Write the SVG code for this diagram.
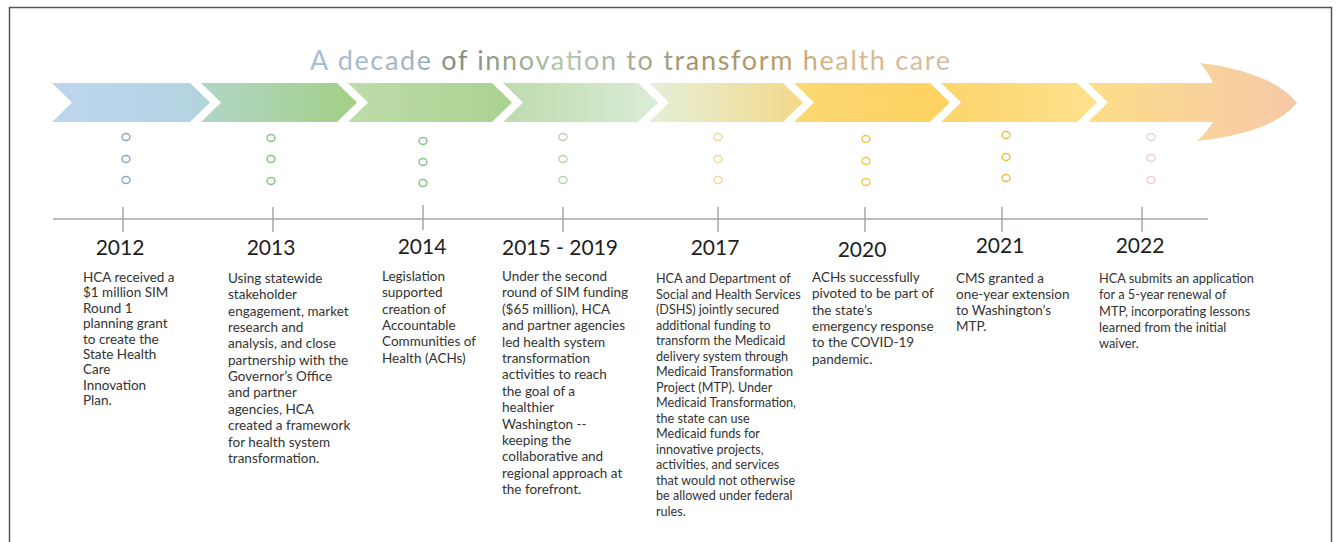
<svg xmlns="http://www.w3.org/2000/svg" width="1337" height="542" viewBox="0 0 1337 542">
<style>
.yr{font-family:Lato,"Liberation Sans",sans-serif;font-size:21px;fill:#1e1e1e;text-anchor:middle}
.d{font-family:Lato,"Liberation Sans",sans-serif;font-size:13.5px;fill:#333}
.d2{font-family:Lato,"Liberation Sans",sans-serif;font-size:12.6px;fill:#333}
.d3{font-family:Lato,"Liberation Sans",sans-serif;font-size:12.8px;fill:#333}
.tk{stroke:#a6a6a6;stroke-width:1.5}
.dot{fill:none;stroke-width:1.4}
</style>
<defs>
<linearGradient id="g1" x1="0" x2="1" y1="0" y2="0"><stop offset="0" stop-color="#bcd5ec"/><stop offset="0.6" stop-color="#b8d3e8"/><stop offset="1" stop-color="#b3d3dc"/></linearGradient>
<linearGradient id="g2" x1="0" x2="1" y1="0" y2="0"><stop offset="0" stop-color="#b1d6c8"/><stop offset="1" stop-color="#a3cf85"/></linearGradient>
<linearGradient id="g3" x1="0" x2="1" y1="0" y2="0"><stop offset="0" stop-color="#bedcab"/><stop offset="1" stop-color="#a9d28f"/></linearGradient>
<linearGradient id="g4" x1="0" x2="1" y1="0" y2="0"><stop offset="0" stop-color="#bddbae"/><stop offset="1" stop-color="#dcecd6"/></linearGradient>
<linearGradient id="g5" x1="0" x2="1" y1="0" y2="0"><stop offset="0" stop-color="#e4efda"/><stop offset="1" stop-color="#f3d98a"/></linearGradient>
<linearGradient id="g6" x1="0" x2="1" y1="0" y2="0"><stop offset="0" stop-color="#fbd873"/><stop offset="1" stop-color="#fdd25f"/></linearGradient>
<linearGradient id="g7" x1="0" x2="1" y1="0" y2="0"><stop offset="0" stop-color="#fcd56c"/><stop offset="1" stop-color="#fde18c"/></linearGradient>
<linearGradient id="g8" x1="0" x2="1" y1="0" y2="0"><stop offset="0" stop-color="#fddd86"/><stop offset="0.5" stop-color="#f9d49a"/><stop offset="1" stop-color="#f6c8a6"/></linearGradient>
<linearGradient id="gt" gradientUnits="userSpaceOnUse" x1="310" y1="0" x2="950" y2="0">
<stop offset="0" stop-color="#a8bfd8"/><stop offset="0.17" stop-color="#9fb4c4"/><stop offset="0.22" stop-color="#7f8e7c"/><stop offset="0.3" stop-color="#8fa288"/><stop offset="0.4" stop-color="#b3c8ac"/><stop offset="0.5" stop-color="#a9ae9c"/><stop offset="0.6" stop-color="#a2946a"/><stop offset="0.72" stop-color="#b69c68"/><stop offset="0.82" stop-color="#d6b886"/><stop offset="1" stop-color="#d8bcaa"/>
</linearGradient>
</defs>
<rect width="1337" height="542" fill="#ffffff"/>
<path d="M9.5,542 V7.5 H1331.5 V542" fill="none" stroke="#555" stroke-width="1.5"/>

<text id="title" x="310" y="70" font-family="Lato,'Liberation Sans',sans-serif" font-size="27" fill="url(#gt)" textLength="640" lengthAdjust="spacing">A decade of innovation to transform health care</text>

<g id="arrow">
<polygon points="52,83 190,83 210,102.5 190,122 52,122 72,102.5" fill="url(#g1)"/>
<polygon points="201,83 337,83 357,102.5 337,122 201,122 221,102.5" fill="url(#g2)"/>
<polygon points="348,83 492,83 512,102.5 492,122 348,122 368,102.5" fill="url(#g3)"/>
<polygon points="503,83 638,83 658,102.5 638,122 503,122 523,102.5" fill="url(#g4)"/>
<polygon points="649,83 783,83 803,102.5 783,122 649,122 669,102.5" fill="url(#g5)"/>
<polygon points="794,83 930,83 950,102.5 930,122 794,122 814,102.5" fill="url(#g6)"/>
<polygon points="941,83 1077,83 1097,102.5 1077,122 941,122 961,102.5" fill="url(#g7)"/>
<path d="M1088,83 L1213,83 Q1208,72 1200,63 Q1272,72 1297,103 Q1272,133 1197,141 Q1207,132 1213,122 L1088,122 L1108,102.5 Z" fill="url(#g8)"/>
</g>

<g id="dots">
<g class="dot" stroke="#8ea7c6"><ellipse cx="126" cy="137" rx="4" ry="3.5"/><ellipse cx="126" cy="159" rx="4" ry="3.5"/><ellipse cx="126" cy="180" rx="4" ry="3.5"/></g>
<g class="dot" stroke="#8dbf8b"><ellipse cx="271" cy="138" rx="4" ry="3.5"/><ellipse cx="271" cy="159" rx="4" ry="3.5"/><ellipse cx="271" cy="181" rx="4" ry="3.5"/></g>
<g class="dot" stroke="#8dbf8b"><ellipse cx="423" cy="141" rx="4" ry="3.5"/><ellipse cx="423" cy="162" rx="4" ry="3.5"/><ellipse cx="423" cy="183" rx="4" ry="3.5"/></g>
<g class="dot" stroke="#b9d2b2"><ellipse cx="563" cy="137" rx="4" ry="3.5"/><ellipse cx="563" cy="159" rx="4" ry="3.5"/><ellipse cx="563" cy="180" rx="4" ry="3.5"/></g>
<g class="dot" stroke="#f0dc98"><ellipse cx="718" cy="137" rx="4" ry="3.5"/><ellipse cx="718" cy="159" rx="4" ry="3.5"/><ellipse cx="718" cy="180" rx="4" ry="3.5"/></g>
<g class="dot" stroke="#efc850"><ellipse cx="866" cy="139" rx="4" ry="3.5"/><ellipse cx="866" cy="161" rx="4" ry="3.5"/><ellipse cx="866" cy="182" rx="4" ry="3.5"/></g>
<g class="dot" stroke="#e8c04a"><ellipse cx="1006" cy="135" rx="4" ry="3.5"/><ellipse cx="1006" cy="157" rx="4" ry="3.5"/><ellipse cx="1006" cy="178" rx="4" ry="3.5"/></g>
<g class="dot" stroke="#eed0cc"><ellipse cx="1151" cy="137" rx="4" ry="3.5"/><ellipse cx="1151" cy="158" rx="4" ry="3.5"/><ellipse cx="1151" cy="180" rx="4" ry="3.5"/></g>
</g>

<g id="connectors">
<line class="tk" x1="53" y1="219" x2="1208" y2="219"/>
<line class="tk" x1="123" y1="207" x2="123" y2="232"/>
<line class="tk" x1="273" y1="207" x2="273" y2="232"/>
<line class="tk" x1="423" y1="205" x2="423" y2="230"/>
<line class="tk" x1="563" y1="207" x2="563" y2="232"/>
<line class="tk" x1="718" y1="207" x2="718" y2="232"/>
<line class="tk" x1="865" y1="207" x2="865" y2="232"/>
<line class="tk" x1="1002" y1="207" x2="1002" y2="232"/>
<line class="tk" x1="1142" y1="207" x2="1142" y2="232"/>
</g>

<g id="n2012">
<text class="yr" x="120" y="255">2012</text>
<text class="d" x="83" y="282"><tspan x="83">HCA received a</tspan><tspan x="83" dy="15.4">$1 million SIM</tspan><tspan x="83" dy="15.4">Round 1</tspan><tspan x="83" dy="15.4">planning grant</tspan><tspan x="83" dy="15.4">to create the</tspan><tspan x="83" dy="15.4">State Health</tspan><tspan x="83" dy="15.4">Care</tspan><tspan x="83" dy="15.4">Innovation</tspan><tspan x="83" dy="15.4">Plan.</tspan></text>
</g>

<g id="n2013">
<text class="yr" x="271" y="255">2013</text>
<text class="d" x="228" y="283"><tspan x="228">Using statewide</tspan><tspan x="228" dy="16.35">stakeholder</tspan><tspan x="228" dy="16.35">engagement, market</tspan><tspan x="228" dy="16.35">research and</tspan><tspan x="228" dy="16.35">analysis, and close</tspan><tspan x="228" dy="16.35">partnership with the</tspan><tspan x="228" dy="16.35">Governor’s Office</tspan><tspan x="228" dy="16.35">and partner</tspan><tspan x="228" dy="16.35">agencies, HCA</tspan><tspan x="228" dy="16.35">created a framework</tspan><tspan x="228" dy="16.35">for health system</tspan><tspan x="228" dy="16.35">transformation.</tspan></text>
</g>

<g id="n2014">
<text class="yr" x="422" y="254">2014</text>
<text class="d" x="382" y="281"><tspan x="382">Legislation</tspan><tspan x="382" dy="16.35">supported</tspan><tspan x="382" dy="16.35">creation of</tspan><tspan x="382" dy="16.35">Accountable</tspan><tspan x="382" dy="16.35">Communities of</tspan><tspan x="382" dy="16.35">Health (ACHs)</tspan></text>
</g>

<g id="n2015">
<text class="yr" x="560" y="255">2015 - 2019</text>
<text class="d" x="502" y="281"><tspan x="502">Under the second</tspan><tspan x="502" dy="16.4">round of SIM funding</tspan><tspan x="502" dy="16.4">($65 million), HCA</tspan><tspan x="502" dy="16.4">and partner agencies</tspan><tspan x="502" dy="16.4">led health system</tspan><tspan x="502" dy="16.4">transformation</tspan><tspan x="502" dy="16.4">activities to reach</tspan><tspan x="502" dy="16.4">the goal of a</tspan><tspan x="502" dy="16.4">healthier</tspan><tspan x="502" dy="16.4">Washington --</tspan><tspan x="502" dy="16.4">keeping the</tspan><tspan x="502" dy="16.4">collaborative and</tspan><tspan x="502" dy="16.4">regional approach at</tspan><tspan x="502" dy="16.4">the forefront.</tspan></text>
</g>

<g id="n2017">
<text class="yr" x="715" y="255">2017</text>
<text class="d2" x="656" y="283"><tspan x="656">HCA and Department of</tspan><tspan x="656" dy="15.5">Social and Health Services</tspan><tspan x="656" dy="15.5">(DSHS) jointly secured</tspan><tspan x="656" dy="15.5">additional funding to</tspan><tspan x="656" dy="15.5">transform the Medicaid</tspan><tspan x="656" dy="15.5">delivery system through</tspan><tspan x="656" dy="15.5">Medicaid Transformation</tspan><tspan x="656" dy="15.5">Project (MTP). Under</tspan><tspan x="656" dy="15.5">Medicaid Transformation,</tspan><tspan x="656" dy="15.5">the state can use</tspan><tspan x="656" dy="15.5">Medicaid funds for</tspan><tspan x="656" dy="15.5">innovative projects,</tspan><tspan x="656" dy="15.5">activities, and services</tspan><tspan x="656" dy="15.5">that would not otherwise</tspan><tspan x="656" dy="15.5">be allowed under federal</tspan><tspan x="656" dy="15.5">rules.</tspan></text>
</g>

<g id="n2020">
<text class="yr" x="862" y="257">2020</text>
<text class="d" x="812" y="282"><tspan x="812">ACHs successfully</tspan><tspan x="812" dy="16.3">pivoted to be part of</tspan><tspan x="812" dy="16.3">the state’s</tspan><tspan x="812" dy="16.3">emergency response</tspan><tspan x="812" dy="16.3">to the COVID-19</tspan><tspan x="812" dy="16.3">pandemic.</tspan></text>
</g>

<g id="n2021">
<text class="yr" x="1000" y="253">2021</text>
<text class="d" x="956" y="283"><tspan x="956">CMS granted a</tspan><tspan x="956" dy="16">one-year extension</tspan><tspan x="956" dy="16">to Washington’s</tspan><tspan x="956" dy="16">MTP.</tspan></text>
</g>

<g id="n2022">
<text class="yr" x="1140" y="253">2022</text>
<text class="d3" x="1099" y="283"><tspan x="1099">HCA submits an application</tspan><tspan x="1099" dy="16.3">for a 5-year renewal of</tspan><tspan x="1099" dy="16.3">MTP, incorporating lessons</tspan><tspan x="1099" dy="16.3">learned from the initial</tspan><tspan x="1099" dy="16.3">waiver.</tspan></text>
</g>
</svg>
